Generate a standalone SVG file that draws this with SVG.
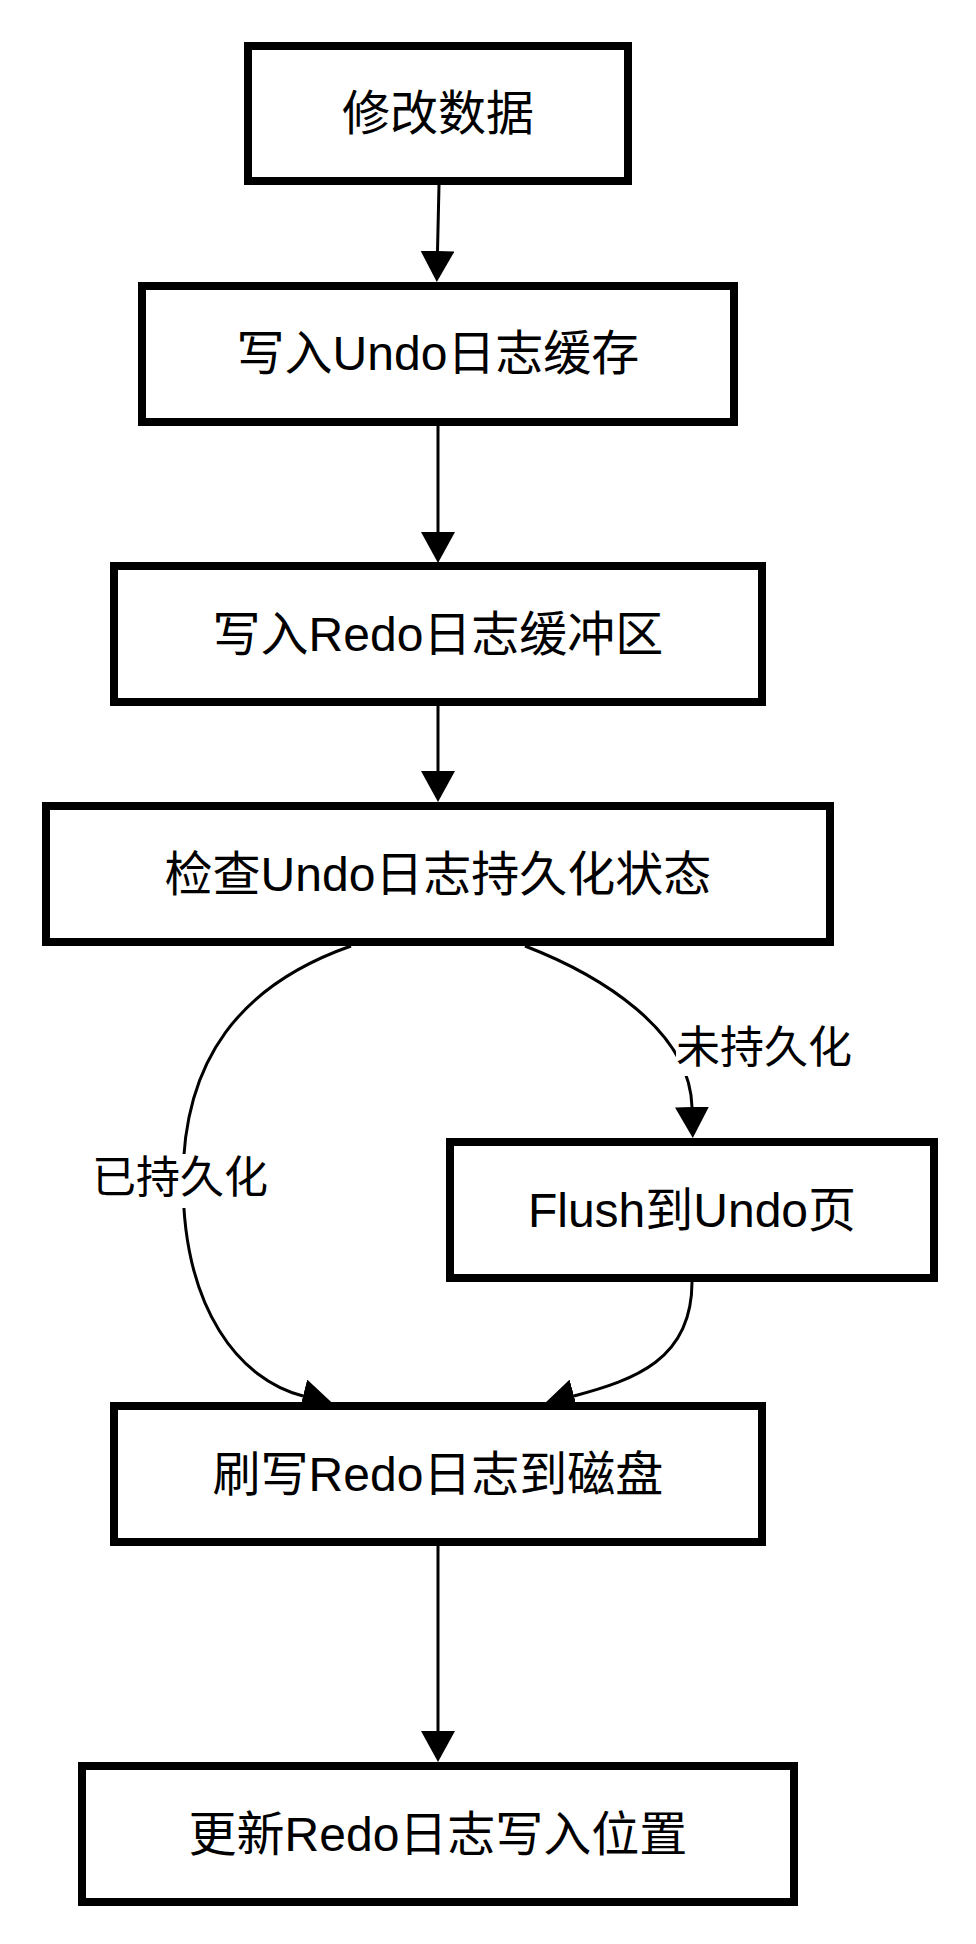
<svg xmlns="http://www.w3.org/2000/svg" width="976" height="1944" viewBox="0 0 976 1944">
<style>
.box{fill:#fff;stroke:#000;stroke-width:8}
.t{font-family:"Liberation Sans","Noto Sans CJK SC",sans-serif;font-size:48px;text-anchor:middle;fill:#000}
.lbl{font-size:44px}
.edge{fill:none;stroke:#000;stroke-width:3}
.lblbg{fill:#fff;stroke:none}
</style>
<defs>
<marker id="arr" markerUnits="userSpaceOnUse" markerWidth="32" markerHeight="34" refX="0" refY="17" orient="auto">
<path d="M0,0 L31,17 L0,34 Z" fill="#000"/>
</marker>
</defs>
<rect width="976" height="1944" fill="#fff"/>
<g id="connectors">
<line class="edge" x1="439" y1="185" x2="437.5" y2="251" marker-end="url(#arr)"/>
<line class="edge" x1="438" y1="426" x2="438" y2="532" marker-end="url(#arr)"/>
<line class="edge" x1="438" y1="706" x2="438" y2="771" marker-end="url(#arr)"/>
<line class="edge" x1="438" y1="1546" x2="438" y2="1731" marker-end="url(#arr)"/>
<path class="edge" d="M525,946 C600,975 690,1030 692,1107" marker-end="url(#arr)"/>
<path class="edge" d="M351,946 C240,985 183,1060 183,1180 C183,1310 240,1380 303,1396" marker-end="url(#arr)"/>
<path class="edge" d="M692,1282 C692,1360 634,1380 574,1396" marker-end="url(#arr)"/>
<g id="label-persisted">
<rect class="lblbg" x="95" y="1154" width="170" height="54"/>
<text class="t lbl" x="180" y="1193">已持久化</text>
</g>
<g id="label-not-persisted">
<rect class="lblbg" x="676" y="1021" width="176" height="55"/>
<text class="t lbl" x="764" y="1063">未持久化</text>
</g>
</g>
<g id="n1">
<rect class="box" x="248" y="46" width="380" height="135"/>
<text class="t" x="438" y="130">修改数据</text>
</g>
<g id="n2">
<rect class="box" x="142" y="286" width="592" height="136"/>
<text class="t" x="438" y="370">写入Undo日志缓存</text>
</g>
<g id="n3">
<rect class="box" x="114" y="566" width="648" height="136"/>
<text class="t" x="438" y="651">写入Redo日志缓冲区</text>
</g>
<g id="n4">
<rect class="box" x="46" y="806" width="784" height="136"/>
<text class="t" x="438" y="891">检查Undo日志持久化状态</text>
</g>
<g id="n5">
<rect class="box" x="450" y="1142" width="484" height="136"/>
<text class="t" x="692" y="1227">Flush到Undo页</text>
</g>
<g id="n6">
<rect class="box" x="114" y="1406" width="648" height="136"/>
<text class="t" x="438" y="1491">刷写Redo日志到磁盘</text>
</g>
<g id="n7">
<rect class="box" x="82" y="1766" width="712" height="136"/>
<text class="t" x="438" y="1851">更新Redo日志写入位置</text>
</g>
</svg>
